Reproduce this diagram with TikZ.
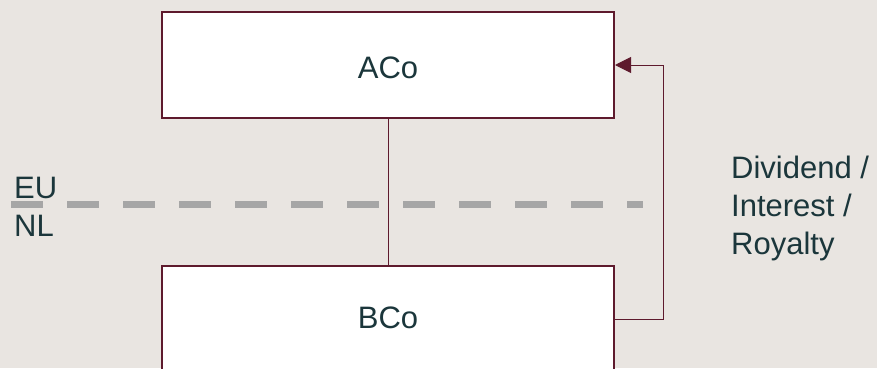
\documentclass[tikz,border=0pt]{standalone}
\usepackage{fontspec}
\setmainfont{Liberation Sans}
\usetikzlibrary{arrows.meta}
\definecolor{bgcol}{HTML}{E9E5E1}
\definecolor{maroon}{HTML}{5E1A2D}
\definecolor{txtcol}{HTML}{1B363B}
\definecolor{dashgray}{HTML}{A6A6A6}
\tikzset{
  entity/.style={draw=maroon, fill=white, line width=2pt, minimum width=452pt, minimum height=106pt, inner sep=0pt, text=txtcol, font=\fontsize{31}{36}\selectfont, text depth=0pt},
  lbl/.style={inner sep=0pt, anchor=base west, text=txtcol, font=\fontsize{31}{36}\selectfont},
  link/.style={draw=maroon, line width=1pt},
  border/.style={draw=dashgray, line width=7pt, dash pattern=on 32pt off 24pt}
}
\begin{document}
\begin{tikzpicture}[x=1pt,y=1pt]
\fill[bgcol] (0,0) rectangle (877,368);
\useasboundingbox (0,0) rectangle (877,368);
\coordinate (dl) at (11,163.5);
\coordinate (dr) at (643,163.5);
\draw[border] (dl) -- (dr);
\node[entity, text height=26pt] (A) at (388,303) {ACo};
\node[entity, text height=18.5pt] (B) at (388,49) {BCo};
\draw[link] (A.south) -- (B.north);
\draw[link, -{Triangle[length=16pt,width=16pt]}] (B.east) -- ++(48,0) |- (A.east);
\node[lbl] (eu) at (14,170) {EU};
\node[lbl] (nl) at (14,132) {NL};
\node[lbl] (l1) at (731,189.7) {Dividend /};
\node[lbl] (l2) at (731,151.3) {Interest /};
\node[lbl] (l3) at (731,114) {Royalty};
\end{tikzpicture}
\end{document}
